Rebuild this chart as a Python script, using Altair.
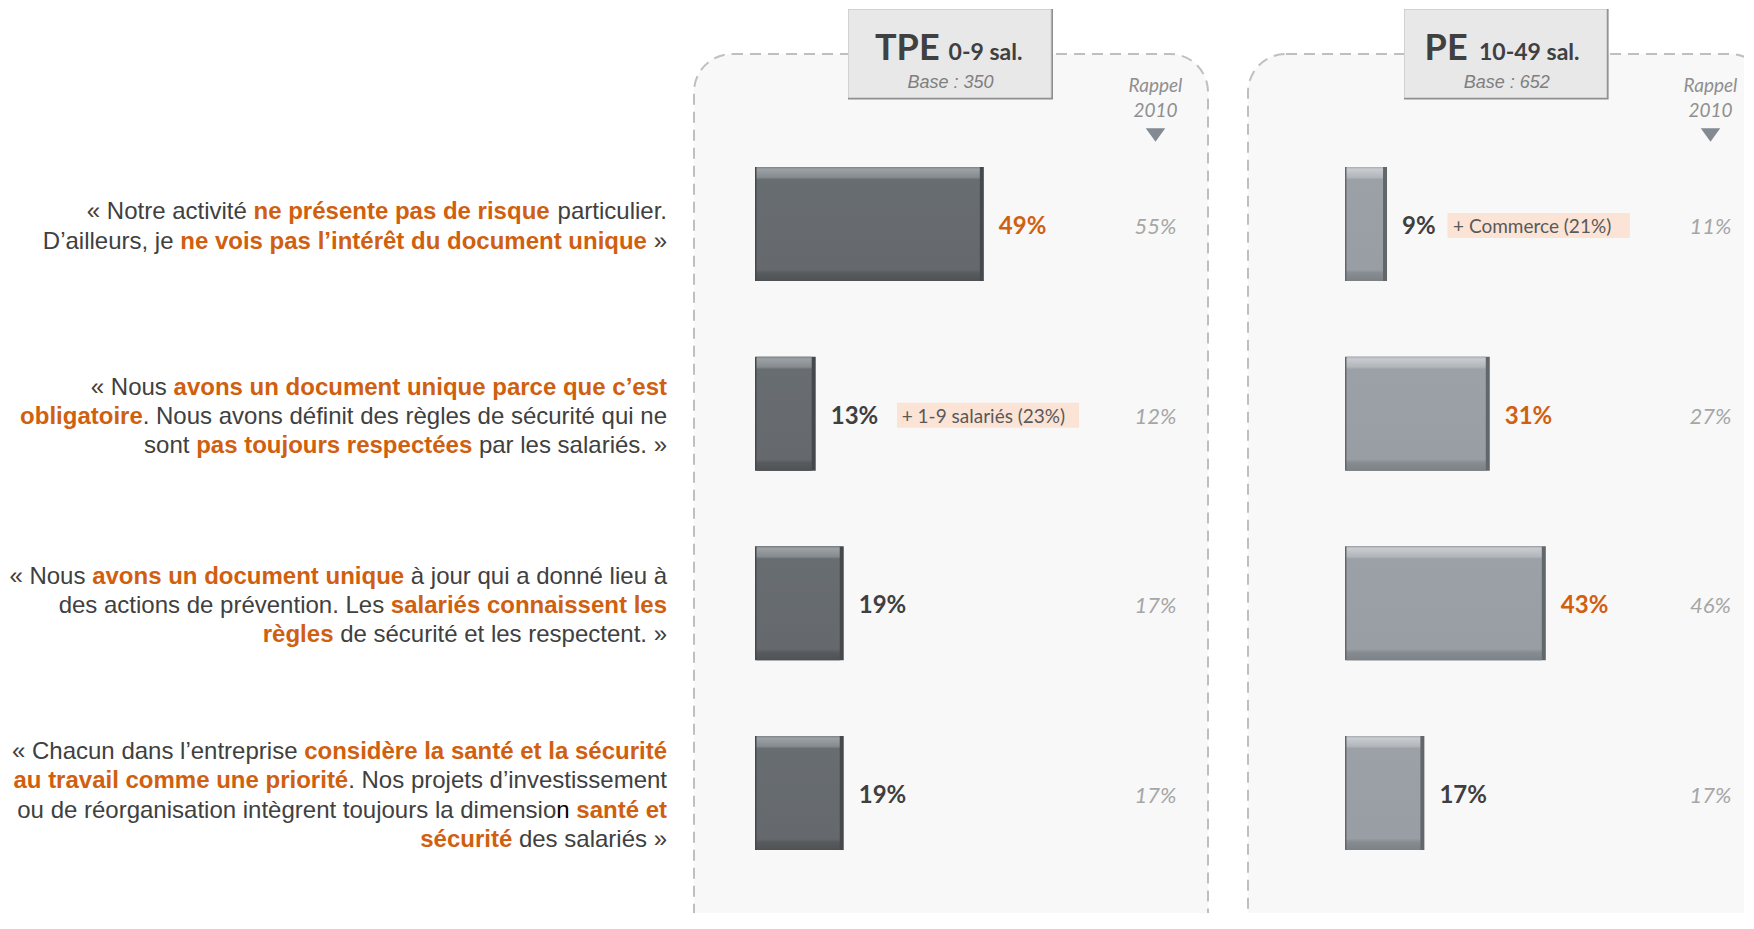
import altair as alt
import pandas as pd

# ------------------------------------------------------------------ data
row_ids = [0, 1, 2, 3]
tpe_values = [49, 13, 19, 19]
pe_values = [9, 31, 43, 17]
tpe_rappel = [55, 12, 17, 17]
pe_rappel = [11, 27, 46, 17]
tpe_emph = [True, False, False, False]
pe_emph = [False, True, True, False]
tpe_notes = ["", "+ 1-9 salariés (23%)", "", ""]
pe_notes = ["+ Commerce (21%)", "", "", ""]
panel_names = ["TPE", "PE"]
panel_sizes = ["0-9 sal.", "10-49 sal."]
panel_bases = ["Base : 350", "Base : 652"]
rappel_head = ["Rappel", "2010"]

# quotes: lines of (text, style) where r = regular, b = bold orange, k = regular black
quote_1 = [
    [("« Notre activité ", "r"), ("ne présente pas de risque", "b"), (" particulier.", "r")],
    [("D’ailleurs, je ", "r"), ("ne vois pas l’intérêt du document unique", "b"), (" »", "r")],
]
quote_2 = [
    [("« Nous ", "r"), ("avons un document unique parce que c’est", "b")],
    [("obligatoire", "b"), (". Nous avons définit des règles de sécurité qui ne", "r")],
    [("sont ", "r"), ("pas toujours respectées", "b"), (" par les salariés. »", "r")],
]
quote_3 = [
    [("« Nous ", "r"), ("avons un document unique", "b"), (" à jour qui a donné lieu à", "r")],
    [("des actions de prévention. Les ", "r"), ("salariés connaissent les", "b")],
    [("règles", "b"), (" de sécurité et les respectent. »", "r")],
]
quote_4 = [
    [("« Chacun dans l’entreprise ", "r"), ("considère la santé et la sécurité", "b")],
    [("au travail comme une priorité", "b"), (". Nos projets d’investissement", "r")],
    [("ou de réorganisation intègrent toujours la dimensio", "r"), ("n ", "k"), ("santé et", "b")],
    [("sécurité", "b"), (" des salariés »", "r")],
]
quotes = [quote_1, quote_2, quote_3, quote_4]

# ------------------------------------------------------------------ layout / style
W, H = 1736, 905
Y_SCALE = alt.Scale(domain=[0, 3], range=[216, 785], nice=False, zero=False)
ROW_STEP = (785 - 216) / 3
LINE_H = 29.1
TEXT_RIGHT = 659
QFS = 24
PX_PER_PCT = 4.67
BAR_H = 114
TXT_DY = 3

ORANGE = "#d0600f"
DARK = "#3f3f3f"
GREY_TXT = "#404040"
NUM_FONT = "Lato"
Q_FONT = "Liberation Sans"

panels = [
    dict(x0=747, frame=(686, 1200), box=(840, 1045), name_r=931.6, size_l=940.6,
         base_c=942.5, rappel_x=1147.5, note_box=(81.3, 263.3), note_txt=86,
         dark="#45494c",
         stops=[(0, "#7d8387"), (0.02, "#9ba1a5"), (0.09, "#858b8f"), (0.11, "#686d71"),
                (0.90, "#65696d"), (0.93, "#585b5e"), (1, "#4f5255")]),
    dict(x0=1337, frame=(1240, 1760), box=(1396, 1600.6), name_r=1459.6, size_l=1471,
         base_c=1498.8, rappel_x=1702.5, note_box=(60.5, 242.8), note_txt=66,
         dark="#62676c",
         stops=[(0, "#a7acb1"), (0.02, "#c8ccd0"), (0.09, "#b1b6bb"), (0.11, "#9ba1a7"),
                (0.90, "#989ea4"), (0.93, "#878c91"), (1, "#7c8186")]),
]
panel_values = [tpe_values, pe_values]
panel_rappel = [tpe_rappel, pe_rappel]
panel_emph = [tpe_emph, pe_emph]
panel_notes = [tpe_notes, pe_notes]

# Arial / Liberation Sans advance widths (1/1000 em)
AR = dict(zip("abcdefghijklmnopqrstuvwxyz",
              [556, 556, 500, 556, 556, 278, 556, 556, 222, 222, 500, 222, 833,
               556, 556, 556, 556, 333, 500, 278, 556, 500, 722, 500, 500, 500]))
AR.update(dict(zip("ABCDEFGHIJKLMNOPQRSTUVWXYZ",
                   [667, 667, 722, 722, 667, 611, 778, 722, 278, 500, 667, 556, 833,
                    722, 778, 667, 778, 722, 667, 611, 722, 667, 944, 667, 667, 611])))
AR.update({" ": 278, "«": 556, "»": 556, "’": 222, ".": 278, ",": 278,
           "é": 556, "è": 556, "ê": 556, "à": 556, "î": 278, "ô": 556, "ç": 500})
AB = dict(zip("abcdefghijklmnopqrstuvwxyz",
              [556, 611, 556, 611, 556, 333, 611, 611, 278, 278, 556, 278, 889,
               611, 611, 611, 611, 389, 556, 333, 611, 556, 778, 556, 556, 500]))
AB.update({" ": 278, "«": 556, "»": 556, "’": 278, ".": 278, ",": 278,
           "é": 556, "è": 556, "ê": 556, "à": 556, "î": 278, "ô": 611, "ç": 556})


def cw(ch, bold):
    t = AB if bold else AR
    return t.get(ch, 556) / 1000.0 * QFS


seg_rows = []
for r, lines in enumerate(quotes):
    n = len(lines)
    for li, segs in enumerate(lines):
        chars = []
        for si, (txt, sty) in enumerate(segs):
            for ch in txt:
                chars.append((ch, sty, si))
        x = TEXT_RIGHT
        right_of = {}
        for ch, sty, si in reversed(chars):
            if ch != " " and si not in right_of:
                right_of[si] = x
            x -= cw(ch, sty == "b")
        for si, (txt, sty) in enumerate(segs):
            seg_rows.append(dict(row=r, line=li, nlines=n, text=txt.strip(),
                                 style=sty, xr=right_of[si]))
seg_df = pd.DataFrame(seg_rows)

one = pd.DataFrame({"k": [0]})
layers = []

# ------------------------------------------------------------------ panel frames + headers
for i, P in enumerate(panels):
    layers.append(alt.Chart(one).mark_rect(
        fill="#f8f8f8", stroke="#bfbfbf", strokeWidth=2, strokeDash=[11, 7],
        cornerRadius=38).encode(
        x=alt.value(P["frame"][0]), x2=alt.value(P["frame"][1]),
        y=alt.value(46), y2=alt.value(960)))

for i, P in enumerate(panels):
    bx0, bx1 = P["box"]
    layers.append(alt.Chart(one).mark_rect(fill="#8e8e8e").encode(
        x=alt.value(bx0), x2=alt.value(bx1), y=alt.value(1), y2=alt.value(91.5)))
    layers.append(alt.Chart(one).mark_rect(fill="#e8e8e8", stroke="#d2d2d2", strokeWidth=1).encode(
        x=alt.value(bx0 + 0.5), x2=alt.value(bx1 - 2), y=alt.value(1.5), y2=alt.value(89.5)))
    hdr = pd.DataFrame({"name": [panel_names[i]], "size": [panel_sizes[i]],
                        "base": [panel_bases[i]]})
    layers.append(alt.Chart(hdr).mark_text(
        font=NUM_FONT, fontWeight="bold", fontSize=36, color=GREY_TXT,
        align="right", baseline="alphabetic").encode(
        x=alt.value(P["name_r"]), y=alt.value(51.5), text="name:N"))
    layers.append(alt.Chart(hdr).mark_text(
        font=NUM_FONT, fontWeight="bold", fontSize=23, color=GREY_TXT,
        align="left", baseline="alphabetic").encode(
        x=alt.value(P["size_l"]), y=alt.value(51.5), text="size:N"))
    layers.append(alt.Chart(hdr).mark_text(
        font=Q_FONT, fontStyle="italic", fontSize=18, color="#7f7f7f",
        align="center", baseline="middle").encode(
        x=alt.value(P["base_c"]), y=alt.value(74.5), text="base:N"))
    # Rappel 2010 header
    rh = pd.DataFrame({"t": rappel_head, "yy": [78, 103]})
    layers.append(alt.Chart(rh).mark_text(
        font=NUM_FONT, fontStyle="italic", fontSize=19, color="#8f8f8f",
        align="center", baseline="middle").encode(
        x=alt.value(P["rappel_x"]), y=alt.Y("yy:Q", scale=None), text="t:N"))
    layers.append(alt.Chart(one).mark_point(
        shape="M-1,-0.7L1,-0.7L0,0.7Z", size=380, filled=True, opacity=1,
        color="#838a92").encode(x=alt.value(P["rappel_x"]), y=alt.value(127)))

# ------------------------------------------------------------------ bars, labels, notes
for i, P in enumerate(panels):
    df = pd.DataFrame({"row": row_ids, "value": panel_values[i],
                       "rappel": panel_rappel[i], "emph": panel_emph[i],
                       "note": panel_notes[i]})
    xs = alt.Scale(domain=[0, 100], range=[P["x0"], P["x0"] + 100 * PX_PER_PCT],
                   nice=False, zero=False)
    X = alt.X("value:Q", scale=xs, axis=None)
    Y = alt.Y("row:Q", scale=Y_SCALE, axis=None)
    base = alt.Chart(df)
    grad = alt.LinearGradient(
        gradient="linear", x1=0, x2=0, y1=0, y2=1,
        stops=[alt.GradientStop(color=c, offset=o) for o, c in P["stops"]])
    layers.append(base.mark_rect(fill=P["dark"], yOffset=-BAR_H / 2, y2Offset=BAR_H / 2).encode(
        x=X, x2=alt.datum(0), y=Y, y2="row:Q"))
    layers.append(base.mark_rect(fill=grad, xOffset=-4, x2Offset=1.5,
                                 yOffset=-BAR_H / 2, y2Offset=BAR_H / 2).encode(
        x=X, x2=alt.datum(0), y=Y, y2="row:Q"))
    # value labels
    layers.append(base.transform_calculate(lab="datum.value + '%'").mark_text(
        font=NUM_FONT, fontWeight="bold", fontSize=24, align="left",
        baseline="middle", dx=15, dy=TXT_DY).encode(
        x=X, y=Y, text="lab:N",
        color=alt.condition("datum.emph", alt.value(ORANGE), alt.value(DARK))))
    # rappel 2010 values
    layers.append(base.transform_calculate(lab="datum.rappel + '%'").mark_text(
        font=NUM_FONT, fontStyle="italic", fontSize=22, color="#a6a6a6",
        align="center", baseline="middle", dy=TXT_DY).encode(
        x=alt.value(P["rappel_x"]), y=Y, text="lab:N"))
    # notes
    nb0, nb1 = P["note_box"]
    notes = base.transform_filter("datum.note != ''")
    layers.append(notes.mark_rect(fill="#fbe4d6", xOffset=nb0, x2Offset=nb1,
                                  yOffset=-11, y2Offset=14).encode(
        x=X, x2=alt.X2("value:Q"), y=Y, y2="row:Q"))
    layers.append(notes.mark_text(font=NUM_FONT, fontSize=19, color="#595959",
                                  align="left", baseline="middle", dx=P["note_txt"],
                                  dy=TXT_DY).encode(
        x=X, y=Y, text="note:N"))

# ------------------------------------------------------------------ quotes
qbase = alt.Chart(seg_df).transform_calculate(
    ypos="datum.row + (datum.line - (datum.nlines - 1) / 2) * %f" % (LINE_H / ROW_STEP))
for sty, color, weight in [("r", GREY_TXT, "normal"), ("k", "#000000", "normal"),
                           ("b", ORANGE, "bold")]:
    layers.append(qbase.transform_filter("datum.style == '%s'" % sty).mark_text(
        font=Q_FONT, fontSize=QFS, fontWeight=weight, color=color,
        align="right", baseline="middle", dy=TXT_DY).encode(
        x=alt.X("xr:Q", scale=None, axis=None),
        y=alt.Y("ypos:Q", scale=Y_SCALE, axis=None),
        text="text:N"))

chart = alt.layer(*layers).resolve_scale(x="independent").properties(
    width=W, height=H, padding=0,
    autosize=alt.AutoSizeParams(type="none"),
    background="white",
).configure_view(stroke=None)

chart.save("out.html", embed_options={"renderer": "svg", "actions": False})
